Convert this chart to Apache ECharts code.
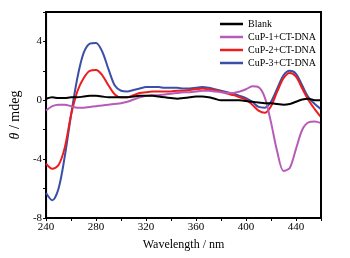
<!DOCTYPE html>
<html lang="en">
<head>
    <meta charset="UTF-8">
    <title>CD spectra</title>
    <style>
        html, body { margin: 0; padding: 0; background: #fff; }
        #chart { width: 350px; height: 258px; }
    </style>
</head>
<body>
<div id="chart"></div>
<script src="https://cdn.jsdelivr.net/npm/echarts@6/dist/echarts.min.js"></script>
<script>
    // wavelength, nm (step 5)
    var wavelength = [240, 245, 250, 255, 260, 265, 270, 275, 280, 285, 290, 295, 300, 305, 310, 315, 320, 325, 330, 335,
        340, 345, 350, 355, 360, 365, 370, 375, 380, 385, 390, 395, 400, 405, 410, 415, 420, 425, 430, 435, 440, 445, 450, 455, 460];
    var blank = [0.1, 0.2, 0.15, 0.15, 0.2, 0.2, 0.25, 0.3, 0.3, 0.25, 0.2, 0.2, 0.2, 0.2, 0.25, 0.3, 0.3, 0.3, 0.25, 0.2,
        0.15, 0.1, 0.15, 0.2, 0.25, 0.25, 0.2, 0.1, 0.0, 0.0, 0.0, 0.0, -0.05, -0.1, -0.15, -0.2, -0.2, -0.25, -0.3, -0.25, -0.1, 0.05, 0.1, 0.0, 0.0];
    var cup1 = [-0.7, -0.4, -0.3, -0.3, -0.4, -0.5, -0.5, -0.45, -0.4, -0.35, -0.3, -0.25, -0.2, -0.1, 0.05, 0.2, 0.3, 0.35, 0.35, 0.4,
        0.45, 0.5, 0.55, 0.55, 0.6, 0.65, 0.65, 0.6, 0.55, 0.5, 0.5, 0.6, 0.75, 0.95, 0.9, 0.2, -1.5, -3.5, -4.8, -4.6, -3.3, -2.0, -1.5, -1.45, -1.55];
    var cup2 = [-4.3, -4.65, -4.4, -3.2, -1.0, 0.6, 1.5, 2.0, 2.05, 1.7, 1.0, 0.4, 0.2, 0.2, 0.35, 0.5, 0.55, 0.6, 0.6, 0.6,
        0.6, 0.65, 0.65, 0.7, 0.75, 0.8, 0.75, 0.7, 0.6, 0.45, 0.35, 0.2, 0.05, -0.3, -0.7, -0.85, -0.4, 0.6, 1.5, 1.85, 1.6, 0.8, 0.0, -0.6, -1.15];
    var cup3 = [-6.3, -6.8, -6.0, -3.8, -1.0, 1.5, 3.2, 3.85, 3.9, 3.3, 2.1, 1.0, 0.65, 0.6, 0.7, 0.8, 0.9, 0.9, 0.9, 0.85,
        0.85, 0.85, 0.8, 0.8, 0.85, 0.9, 0.85, 0.75, 0.65, 0.55, 0.45, 0.3, 0.15, -0.1, -0.45, -0.5, -0.1, 0.8, 1.7, 2.0, 1.8, 1.0, 0.2, -0.25, -0.6];

    var names = ['Blank', 'CuP-1+CT-DNA', 'CuP-2+CT-DNA', 'CuP-3+CT-DNA'];
    var colors = ['#000000', '#b65cb8', '#ee1c1c', '#3a4fa8'];
    var values = [blank, cup1, cup2, cup3];

    var font = 'Liberation Serif';
    var xMin = 240, xMax = 460, yMin = -8, yMax = 6;

    function pairs(arr) {
        return arr.map(function (v, i) { return [wavelength[i], v]; });
    }

    var series = values.map(function (arr, i) {
        return {
            name: names[i],
            type: 'line',
            data: pairs(arr),
            smooth: 0.3,
            showSymbol: false,
            symbol: 'none',
            lineStyle: { color: colors[i], width: 2 },
            itemStyle: { color: colors[i] },
            z: 4 - i
        };
    });

    // top + right edge of the plot box, drawn on the axes' extent
    series.push({
        name: 'frame',
        type: 'line',
        data: [[xMin, yMax], [xMax, yMax], [xMax, yMin]],
        showSymbol: false,
        symbol: 'none',
        silent: true,
        clip: false,
        lineStyle: { color: '#000', width: 2 },
        z: 10
    });

    var mChart = echarts.init(document.getElementById('chart'));
    var option = {
        animation: false,
        grid: { left: 42, right: 29, top: 12, bottom: 40, show: true, borderColor: '#000', borderWidth: 2 },
        legend: {
            data: names,
            orient: 'vertical',
            left: 220,
            top: 19,
            padding: 0,
            icon: 'rect',
            itemWidth: 23,
            itemHeight: 2.5,
            itemGap: 3,
            textStyle: { fontFamily: font, fontSize: 10, color: '#000', lineHeight: 10 }
        },
        xAxis: {
            type: 'value',
            min: xMin,
            max: xMax,
            interval: 20,
            name: 'Wavelength / nm',
            nameLocation: 'middle',
            nameGap: 21,
            nameTextStyle: { fontFamily: font, fontSize: 12, color: '#000' },
            axisLine: { show: true, onZero: false, lineStyle: { color: '#000', width: 2 } },
            axisTick: { show: true, length: 3, lineStyle: { color: '#000' } },
            splitLine: { show: false },
            axisLabel: {
                fontFamily: font, fontSize: 11, color: '#000', margin: 4,
                formatter: function (v) { return (v % 40 === 0 && v < 460) ? String(v) : ''; }
            }
        },
        yAxis: {
            type: 'value',
            min: yMin,
            max: yMax,
            interval: 2,
            name: '{i|θ}{n| / mdeg}',
            nameLocation: 'middle',
            nameGap: 22,
            nameTextStyle: {
                fontFamily: font, fontSize: 14, color: '#000',
                rich: {
                    i: { fontFamily: font, fontStyle: 'italic', fontSize: 14, color: '#000' },
                    n: { fontFamily: font, fontSize: 14, color: '#000' }
                }
            },
            axisLine: { show: true, onZero: false, lineStyle: { color: '#000', width: 2 } },
            axisTick: { show: true, length: 3, lineStyle: { color: '#000' } },
            splitLine: { show: false },
            axisLabel: {
                fontFamily: font, fontSize: 11, color: '#000', margin: 4,
                formatter: function (v) { return (v % 4 === 0 && v < 6) ? String(v) : ''; }
            }
        },
        series: series
    };

    mChart.setOption(option);
</script>
</body>
</html>
